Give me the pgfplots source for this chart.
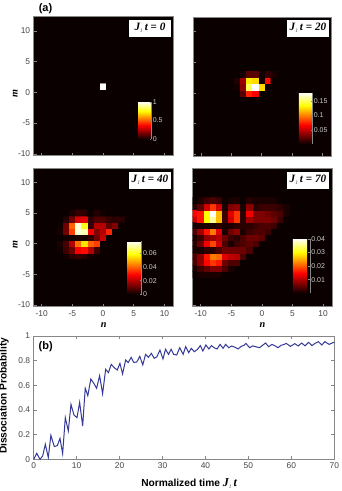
\documentclass[border=0pt]{standalone}
\usepackage{fontspec}
\setmainfont{Liberation Sans}
\newfontfamily\serifbi{Liberation Serif}
\usepackage{pgfplots}
\pgfplotsset{compat=1.18}
\usetikzlibrary{calc}
\pgfkeys{/pgf/number format/assume math mode=true}
\definecolor{framegray}{RGB}{135,135,135}
\definecolor{ticktext}{RGB}{70,70,70}
\definecolor{curveblue}{RGB}{52,56,150}
\pgfplotsset{
  colormap={myhot}{rgb255(0cm)=(10,0,0); rgb255(3.7cm)=(255,0,0); rgb255(7.5cm)=(255,255,0); rgb255(10cm)=(255,255,255)},
  base/.style={
    scale only axis,
    axis line style={framegray,line width=0.8pt},
    tick style={framegray,line width=0.6pt},
    major tick length=3pt,
    tick align=inside,
    tick label style={font=\fontsize{8.4}{9}\selectfont,text=ticktext},
    label style={font=\fontsize{10.2}{11}\selectfont},
  },
  panel/.style={
    base,
    colormap name=myhot,
    axis background/.style={fill={rgb,255:red,10;green,0;blue,0}},
    xmin=-11.3,xmax=11.5,ymin=-10.3,ymax=12.3,
    xtick={-10,-5,0,5,10},ytick={-10,-5,0,5,10},
    xtick pos=bottom,ytick pos=left,
    xlabel style={at={(axis description cs:0.5,-0.09)},anchor=north},
    ylabel style={at={(axis description cs:-0.09,0.45)},anchor=south},
  },
  heat/.style={matrix plot*,point meta=explicit},
  cbar/.style n args={5}{
    colorbar,
    colorbar style={
      scale only axis,
      at={($(parent axis.south west)+(#1pt-8pt,#2pt)$)},anchor=south west,
      width=#3pt,height=#4pt,
      ytick={#5},
      scaled y ticks=false,
      axis x line=none,
      axis y line*=right,
      axis line style={framegray,line width=0.4pt,-},
      tick style={framegray,line width=0.3pt},
      major tick length=1.5pt,
      yticklabel style={font=\fontsize{7}{7}\selectfont,text=white!80!black,xshift=-2pt,/pgf/number format/fixed},
    },
  },
}
\newcommand{\mlab}{{\serifbi\bfseries\itshape m}}
\newcommand{\nlab}{{\serifbi\bfseries\itshape n}}
\newcommand{\jtbox}[3]{\node[draw=black,line width=0.4pt,fill=white,minimum width=43pt,minimum height=18pt,inner sep=0pt,font=\fontsize{11.2}{12}\selectfont\serifbi\bfseries\itshape] at (#1pt,#2pt) {J\raisebox{-2.5pt}{\color{gray}\fontsize{5.5}{5.5}\selectfont 1}\,t {\upshape =} #3};}
\begin{document}
\begin{tikzpicture}[x=1pt,y=1pt]
\path[use as bounding box] (0,0) rectangle (341,491);

% J1t = 0
\begin{axis}[panel,at={(33.7pt,335.3pt)},anchor=south west,width=140pt,height=139pt,
  xticklabels={},ylabel={\mlab},point meta min=0,point meta max=1,
  cbar={104}{16.4}{13}{37.6}{0,0.5,1}]
\addplot[heat,mesh/cols=3,mesh/rows=3] table[x=n,y=m,meta=v,row sep=\\] {
n m v\\
-1 0 0\\ 0 0 0\\ 1 0 0\\
-1 1 0\\ 0 1 1\\ 1 1 0\\
-1 2 0\\ 0 2 0\\ 1 2 0\\
};
\end{axis}

% J1t = 20
\begin{axis}[panel,at={(193pt,335pt)},anchor=south west,width=138.7pt,height=138.5pt,
  xticklabels={},yticklabels={},point meta min=0,point meta max=0.18,
  cbar={105.3}{12}{13.4}{51.3}{0.05,0.1,0.15}]
\addplot[heat,mesh/cols=7,mesh/rows=4] table[x=n,y=m,meta=v,row sep=\\] {
n m v\\
-4 0 0\\ -3 0 .02\\ -2 0 .075\\ -1 0 .065\\ 0 0 0\\ 1 0 0\\ 2 0 0\\
-4 1 .003\\ -3 1 .035\\ -2 1 .15\\ -1 1 .18\\ 0 1 .125\\ 1 1 0\\ 2 1 0\\
-4 2 .006\\ -3 2 .04\\ -2 2 .13\\ -1 2 .125\\ 0 2 .002\\ 1 2 .07\\ 2 2 0\\
-4 3 0\\ -3 3 .003\\ -2 3 .022\\ -1 3 .022\\ 0 3 .002\\ 1 3 .012\\ 2 3 .005\\
};
\end{axis}

% J1t = 40
\begin{axis}[panel,at={(33.7pt,184.3pt)},anchor=south west,width=140pt,height=138.4pt,
  xlabel={\nlab},ylabel={\mlab},point meta min=0,point meta max=0.078,
  cbar={93.3}{12.4}{14}{53.3}{0,0.02,0.04,0.06}]
\addplot[heat,mesh/cols=11,mesh/rows=8] table[x=n,y=m,meta=v,row sep=\\] {
n m v\\
-7 -2 0\\ -6 -2 .001\\ -5 -2 .004\\ -4 -2 .005\\ -3 -2 .004\\ -2 -2 .001\\ -1 -2 0\\ 0 -2 0\\ 1 -2 0\\ 2 -2 0\\ 3 -2 0\\
-7 -1 .001\\ -6 -1 .006\\ -5 -1 .012\\ -4 -1 .028\\ -3 -1 .03\\ -2 -1 .02\\ -1 -1 .006\\ 0 -1 0\\ 1 -1 0\\ 2 -1 0\\ 3 -1 0\\
-7 0 .002\\ -6 0 .007\\ -5 0 .02\\ -4 0 .042\\ -3 0 .055\\ -2 0 .04\\ -1 0 .036\\ 0 0 0\\ 1 0 0\\ 2 0 0\\ 3 0 0\\
-7 1 0\\ -6 1 .001\\ -5 1 .001\\ -4 1 .002\\ -3 1 .002\\ -2 1 .004\\ -1 1 .012\\ 0 1 .022\\ 1 1 0\\ 2 1 0\\ 3 1 0\\
-7 2 .002\\ -6 2 .012\\ -5 2 .036\\ -4 2 .075\\ -3 2 .072\\ -2 2 .028\\ -1 2 .014\\ 0 2 .02\\ 1 2 .033\\ 2 2 0\\ 3 2 0\\
-7 3 .001\\ -6 3 .012\\ -5 3 .04\\ -4 3 .075\\ -3 3 .06\\ -2 3 .005\\ -1 3 .02\\ 0 3 .02\\ 1 3 .01\\ 2 3 .014\\ 3 3 0\\
-7 4 0\\ -6 4 .003\\ -5 4 .012\\ -4 4 .024\\ -3 4 .026\\ -2 4 .004\\ -1 4 .008\\ 0 4 .008\\ 1 4 .005\\ 2 4 .004\\ 3 4 .004\\
-7 5 0\\ -6 5 0\\ -5 5 .002\\ -4 5 .005\\ -3 5 .004\\ -2 5 0\\ -1 5 .003\\ 0 5 .001\\ 1 5 0\\ 2 5 0\\ 3 5 0\\
};
\end{axis}

% J1t = 70
\begin{axis}[panel,at={(192.7pt,184.3pt)},anchor=south west,width=139.6pt,height=138.4pt,
  xlabel={\nlab},yticklabels={},point meta min=0,point meta max=0.04,
  cbar={99.6}{13.4}{17}{54.6}{0.01,0.02,0.03,0.04}]
\addplot[heat,mesh/cols=16,mesh/rows=13] table[x=n,y=m,meta=v,row sep=\\] {
n m v\\
-11 -5 0\\ -10 -5 .001\\ -9 -5 .001\\ -8 -5 .001\\ -7 -5 .001\\ -6 -5 0\\ -5 -5 0\\ -4 -5 0\\ -3 -5 0\\ -2 -5 0\\ -1 -5 0\\ 0 -5 0\\ 1 -5 0\\ 2 -5 0\\ 3 -5 0\\ 4 -5 0\\
-11 -4 .001\\ -10 -4 .003\\ -9 -4 .005\\ -8 -4 .007\\ -7 -4 .007\\ -6 -4 .004\\ -5 -4 .001\\ -4 -4 0\\ -3 -4 0\\ -2 -4 0\\ -1 -4 0\\ 0 -4 0\\ 1 -4 0\\ 2 -4 0\\ 3 -4 0\\ 4 -4 0\\
-11 -3 .004\\ -10 -3 .008\\ -9 -3 .015\\ -8 -3 .018\\ -7 -3 .016\\ -6 -3 .006\\ -5 -3 .004\\ -4 -3 .004\\ -3 -3 0\\ -2 -3 0\\ -1 -3 0\\ 0 -3 0\\ 1 -3 0\\ 2 -3 0\\ 3 -3 0\\ 4 -3 0\\
-11 -2 .004\\ -10 -2 .008\\ -9 -2 .016\\ -8 -2 .022\\ -7 -2 .021\\ -6 -2 .013\\ -5 -2 .011\\ -4 -2 .01\\ -3 -2 .004\\ -2 -2 0\\ -1 -2 0\\ 0 -2 0\\ 1 -2 0\\ 2 -2 0\\ 3 -2 0\\ 4 -2 0\\
-11 -1 .001\\ -10 -1 .001\\ -9 -1 .002\\ -8 -1 .002\\ -7 -1 .004\\ -6 -1 .006\\ -5 -1 .006\\ -4 -1 .006\\ -3 -1 .006\\ -2 -1 .004\\ -1 -1 0\\ 0 -1 0\\ 1 -1 0\\ 2 -1 0\\ 3 -1 0\\ 4 -1 0\\
-11 0 .002\\ -10 0 .006\\ -9 0 .014\\ -8 0 .019\\ -7 0 .012\\ -6 0 .004\\ -5 0 .001\\ -4 0 .003\\ -3 0 .004\\ -2 0 .005\\ -1 0 .004\\ 0 0 0\\ 1 0 0\\ 2 0 0\\ 3 0 0\\ 4 0 0\\
-11 1 .001\\ -10 1 .003\\ -9 1 .008\\ -8 1 .009\\ -7 1 .01\\ -6 1 .006\\ -5 1 .003\\ -4 1 .002\\ -3 1 .004\\ -2 1 .006\\ -1 1 .006\\ 0 1 .005\\ 1 1 0\\ 2 1 0\\ 3 1 0\\ 4 1 0\\
-11 2 .004\\ -10 2 .009\\ -9 2 .016\\ -8 2 .022\\ -7 2 .013\\ -6 2 .001\\ -5 2 .006\\ -4 2 .008\\ -3 2 .001\\ -2 2 .003\\ -1 2 .004\\ 0 2 .004\\ 1 2 .003\\ 2 2 0\\ 3 2 0\\ 4 2 0\\
-11 3 .001\\ -10 3 .001\\ -9 3 .001\\ -8 3 .001\\ -7 3 .002\\ -6 3 .001\\ -5 3 .001\\ -4 3 .002\\ -3 3 .002\\ -2 3 .002\\ -1 3 .003\\ 0 3 .004\\ 1 3 .004\\ 2 3 .003\\ 3 3 0\\ 4 3 0\\
-11 4 .012\\ -10 4 .016\\ -9 4 .03\\ -8 4 .036\\ -7 4 .026\\ -6 4 .003\\ -5 4 .012\\ -4 4 .018\\ -3 4 .002\\ -2 4 .009\\ -1 4 .007\\ 0 4 .007\\ 1 4 .007\\ 2 4 .006\\ 3 4 .003\\ 4 4 0\\
-11 5 .015\\ -10 5 .016\\ -9 5 .03\\ -8 5 .04\\ -7 5 .026\\ -6 5 .003\\ -5 5 .013\\ -4 5 .018\\ -3 5 .002\\ -2 5 .014\\ -1 5 .007\\ 0 5 .007\\ 1 5 .006\\ 2 5 .005\\ 3 5 .004\\ 4 5 .001\\
-11 6 .002\\ -10 6 .005\\ -9 6 .012\\ -8 6 .018\\ -7 6 .012\\ -6 6 .001\\ -5 6 .007\\ -4 6 .008\\ -3 6 .001\\ -2 6 .008\\ -1 6 .002\\ 0 6 .003\\ 1 6 .003\\ 2 6 .003\\ 3 6 .002\\ 4 6 .001\\
-11 7 0\\ -10 7 .001\\ -9 7 .003\\ -8 7 .004\\ -7 7 .003\\ -6 7 0\\ -5 7 .001\\ -4 7 .001\\ -3 7 0\\ -2 7 .002\\ -1 7 .001\\ 0 7 .001\\ 1 7 .001\\ 2 7 .001\\ 3 7 0\\ 4 7 0\\
};
\end{axis}

% dissociation probability
\begin{axis}[base,at={(33.7pt,31.7pt)},anchor=south west,width=300.6pt,height=123.3pt,
  xmin=0,xmax=70,ymin=0,ymax=1,
  xtick={0,10,...,70},ytick={0,0.2,0.4,0.6,0.8,1},
  xlabel={\textbf{Normalized time }{\serifbi\bfseries\itshape\fontsize{12}{12}\selectfont J\raisebox{-2.5pt}{\color{gray}\fontsize{5.5}{5.5}\selectfont 1}\,t}},
  ylabel={\textbf{Dissociation Probability}},
  xlabel style={at={(axis description cs:0.517,-0.125)},anchor=north},
  ylabel style={at={(axis description cs:-0.071,0.515)},anchor=south},
  yticklabel style={/pgf/number format/fixed},
]
\addplot[curveblue,line width=1pt] coordinates {
(0,0) (.7,.049) (1.47,0) (2.09,.027) (2.71,.122) (3.4,.014) (4,.195) (4.8,.103) (5.5,.111) (6.12,.17)
(6.74,.046) (7.36,.338) (8.06,.23) (8.68,.446) (9.38,.359) (10.08,.338) (10.7,.462) (11.4,.27) (12,.576) (12.6,.516)
(13.3,.651) (14,.616) (14.65,.576) (15.35,.678) (16.05,.532) (16.75,.73) (17.4,.703) (18.06,.77) (18.76,.743) (19.46,.724)
(20.08,.778) (20.7,.692) (21.4,.805) (22,.784) (22.7,.827) (23.3,.786) (24,.789) (24.7,.835) (25.4,.765) (26.05,.851)
(26.7,.827) (27.4,.859) (28.06,.819) (28.7,.832) (29.4,.886) (30.1,.814) (30.7,.892) (31.4,.851) (32,.892) (32.6,.851)
(33.3,.846) (34,.905) (34.8,.851) (35.4,.914) (36.1,.865) (36.7,.9) (37.4,.873) (38.1,.89) (38.8,.922) (39.4,.878)
(40.1,.927) (40.8,.895) (41.4,.922) (42,.905) (42.7,.895) (43.4,.932) (44.1,.9) (44.7,.932) (45.4,.905) (46.1,.919)
(46.8,.91) (47.6,.895) (48.3,.915) (49,.925) (49.4,.94) (50.3,.905) (51,.92) (51.7,.913) (52.6,.905) (53.3,.925)
(54,.943) (54.7,.913) (55.5,.932) (56.2,.92) (56.9,.905) (57.6,.925) (58.2,.93) (58.8,.94) (59.8,.916) (60.8,.938)
(61.6,.919) (62.4,.943) (63.2,.92) (64,.949) (64.8,.922) (65.5,.94) (66.3,.954) (67.1,.927) (67.8,.954) (68.8,.932)
(69.7,.946) (70,.949)
};
\end{axis}

\jtbox{150}{463}{0}
\jtbox{308}{463}{20}
\jtbox{150}{311}{40}
\jtbox{308}{311}{70}
\node[font=\fontsize{11}{11}\selectfont\bfseries] at (45.5,482.5) {(a)};
\node[font=\fontsize{11}{11}\selectfont\bfseries] at (45.7,144.5) {(b)};
\end{tikzpicture}
\end{document}
